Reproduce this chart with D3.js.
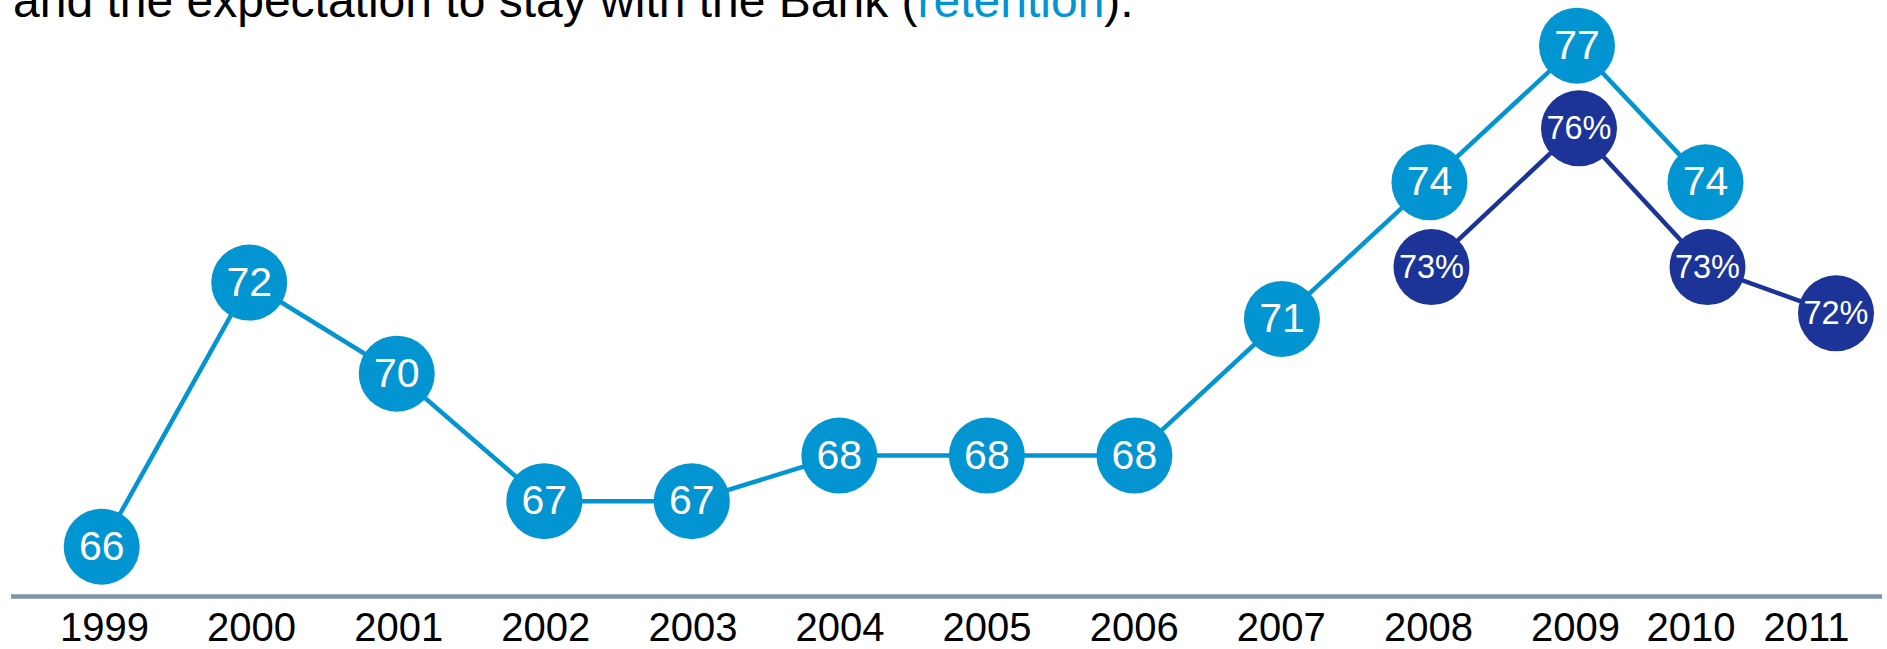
<!DOCTYPE html>
<html>
<head>
<meta charset="utf-8">
<script src="https://cdn.jsdelivr.net/npm/d3@7"></script>
<style>
  html, body { margin: 0; padding: 0; background: #ffffff; overflow: hidden; }
  svg { display: block; }
  text { font-family: "Liberation Sans", Arial, Helvetica, sans-serif; }
</style>
</head>
<body>
<svg id="chart" width="1887" height="649"></svg>
<script>
// ---- data ----
const years = [1999, 2000, 2001, 2002, 2003, 2004, 2005, 2006, 2007, 2008, 2009, 2010, 2011];
const satisfactionYears = [1999, 2000, 2001, 2002, 2003, 2004, 2005, 2006, 2007, 2008, 2009, 2010];
const satisfactionValues = [66, 71.8, 69.8, 67, 67, 68, 68, 68, 71, 74, 77, 74];
const retentionYears = [2008, 2009, 2010, 2011];
const retentionValues = [73, 76, 73, 72];
const titleParts = [
  { text: "and the expectation to stay with the Bank (", accent: false },
  { text: "retention", accent: true },
  { text: ").", accent: false }
];

// ---- styles ----
const lightBlue = "#0394d2";
const darkBlue = "#1c3497";
const axisColor = "#7f95ab";
const R = 38;

const svg = d3.select("#chart");

// ---- scales ----
const x = d3.scaleLinear().domain([1999, 2009, 2011]).range([101.7, 1577, 1834]);
const xLabel = d3.scaleLinear().domain([1999, 2009, 2011]).range([104, 1575, 1806]);
const y = d3.scaleLinear().domain([66, 77]).range([546.7, 45.7]);
const yRet = d3.scaleLinear().domain([72, 76]).range([313.3, 128.3]);

// ---- title ----
const title = svg.append("text")
  .attr("x", 13)
  .attr("y", 17)
  .attr("font-size", 48)
  .attr("fill", "#000");
title.selectAll("tspan").data(titleParts).join("tspan")
  .text(d => d.text)
  .attr("fill", d => d.accent ? lightBlue : "#000");

// ---- axis line ----
svg.append("line")
  .attr("x1", 11).attr("x2", 1882)
  .attr("y1", 596.5).attr("y2", 596.5)
  .attr("stroke", axisColor)
  .attr("stroke-width", 4.5);

// ---- axis labels ----
const axis = d3.axisBottom(xLabel)
  .tickValues(years)
  .tickFormat(d3.format("d"))
  .tickSize(0)
  .tickPadding(0);
const axisG = svg.append("g").attr("transform", "translate(0,613)").call(axis);
axisG.select(".domain").remove();
axisG.selectAll("text")
  .attr("font-size", 40)
  .attr("font-family", "'Liberation Sans', Arial, sans-serif")
  .attr("fill", "#000")
  .attr("dy", "0.71em");

// ---- series 1: satisfaction ----
const sat = satisfactionYears.map((yr, i) => ({ year: yr, value: satisfactionValues[i] }));
const ret = retentionYears.map((yr, i) => ({ year: yr, value: retentionValues[i] }));

const line1 = d3.line().x(d => x(d.year)).y(d => y(d.value));
const line2 = d3.line().x(d => x(d.year)).y(d => yRet(d.value));

svg.append("path")
  .datum(sat)
  .attr("d", line1)
  .attr("fill", "none")
  .attr("stroke", lightBlue)
  .attr("stroke-width", 4.5);

const g1 = svg.append("g").selectAll("g").data(sat).join("g")
  .attr("transform", d => `translate(${x(d.year)},${y(d.value)})`);
g1.append("circle").attr("r", R).attr("fill", lightBlue);
g1.append("text")
  .attr("text-anchor", "middle")
  .attr("y", 13)
  .attr("font-size", 41)
  .attr("fill", "#fff")
  .text(d => d3.format(".0f")(d.value));

// ---- series 2: retention ----
svg.append("path")
  .datum(ret)
  .attr("d", line2)
  .attr("fill", "none")
  .attr("stroke", darkBlue)
  .attr("stroke-width", 4.5);

const g2 = svg.append("g").selectAll("g").data(ret).join("g")
  .attr("transform", d => `translate(${x(d.year) + 2},${yRet(d.value)})`);
g2.append("circle").attr("r", R).attr("fill", darkBlue);
g2.append("text")
  .attr("text-anchor", "middle")
  .attr("y", 11)
  .attr("font-size", 32.5)
  .attr("fill", "#fff")
  .text(d => d3.format(".0f")(d.value) + "%");
</script>
</body>
</html>
